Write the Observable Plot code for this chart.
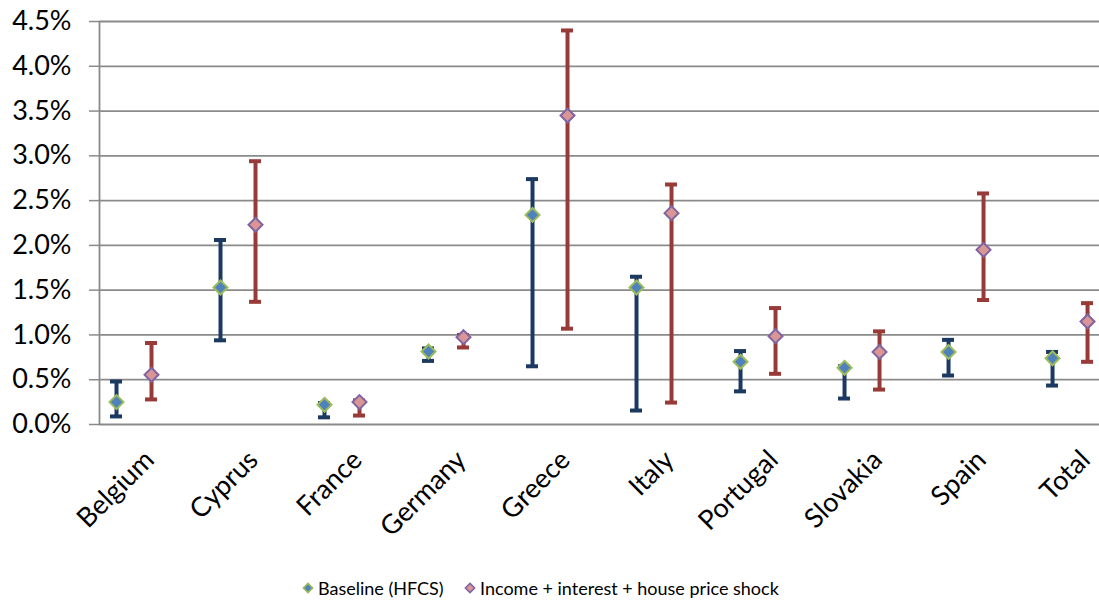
<!DOCTYPE html>
<html>
<head>
<meta charset="utf-8">
<script src="https://cdn.jsdelivr.net/npm/d3@7"></script>
<script src="https://cdn.jsdelivr.net/npm/@observablehq/plot@0.6"></script>
<style>
  html, body { margin: 0; padding: 0; background: #fff; }
  body { width: 1099px; height: 603px; overflow: hidden; font-family: Lato, "Open Sans", sans-serif; }
  #chart svg { display: block; }
  #legend { position: relative; height: 48px; font-size: 18px; color: #000; }
  .item { position: absolute; top: 13px; height: 40px; display: flex; align-items: center; }
  .item svg { margin-right: 4px; }
</style>
</head>
<body>
<div id="chart"></div>
<div id="legend"></div>
<script>
const categories = ["Belgium", "Cyprus", "France", "Germany", "Greece", "Italy", "Portugal", "Slovakia", "Spain", "Total"];
const seriesNames = ["Baseline (HFCS)", "Income + interest + house price shock"];
// values in percent
const baseMid  = [0.25, 1.53, 0.22, 0.815, 2.34, 1.53, 0.70, 0.633, 0.81, 0.74];
const baseLow  = [0.09, 0.94, 0.08, 0.71, 0.65, 0.156, 0.37, 0.29, 0.547, 0.435];
const baseHigh = [0.48, 2.06, 0.24, 0.85, 2.74, 1.65, 0.82, 0.65, 0.945, 0.81];
const shockMid  = [0.555, 2.23, 0.25, 0.975, 3.45, 2.36, 0.986, 0.81, 1.95, 1.15];
const shockLow  = [0.28, 1.37, 0.10, 0.86, 1.07, 0.245, 0.566, 0.39, 1.39, 0.70];
const shockHigh = [0.91, 2.94, 0.27, 1.00, 4.40, 2.68, 1.30, 1.04, 2.58, 1.355];
const yTicks = [0, 0.5, 1.0, 1.5, 2.0, 2.5, 3.0, 3.5, 4.0, 4.5];

const styles = {
  [seriesNames[0]]: {bar: "#1c3a61", fill: "#4f81bd", stroke: "#9bbb59", shift: -35 / 104},
  [seriesNames[1]]: {bar: "#983a37", fill: "#d99694", stroke: "#8064a2", shift: 0}
};

const rows = [];
categories.forEach((c, i) => {
  rows.push({cat: c, i, series: seriesNames[0], mid: baseMid[i], low: baseLow[i], high: baseHigh[i]});
  rows.push({cat: c, i, series: seriesNames[1], mid: shockMid[i], low: shockLow[i], high: shockHigh[i]});
});
const xPos = d => d.i + styles[d.series].shift;
const capHalf = 6 / 104;

const plot = Plot.plot({
  width: 1099,
  height: 555,
  marginLeft: 99,
  marginRight: 0,
  marginTop: 21,
  marginBottom: 131,
  style: {fontFamily: "Lato, 'Open Sans', sans-serif", color: "#000", background: "#fff", overflow: "visible"},
  x: {type: "linear", domain: [-0.5, 9.115]},
  y: {domain: [0, 4.5]},
  marks: [
    Plot.ruleY(yTicks, {stroke: "#8a8a8a", strokeWidth: 1.8}),
    Plot.ruleX([-0.5], {stroke: "#8a8a8a", strokeWidth: 1.8}),
    Plot.axisY({ticks: yTicks, tickSize: 10, tickPadding: 18, tickFormat: d => d.toFixed(1) + "%",
      fontSize: 27, stroke: "#8a8a8a", strokeWidth: 1.5, label: null}),
    Plot.axisX({ticks: d3.range(categories.length), tickFormat: i => categories[i], tickSize: 0,
      tickRotate: -45, tickPadding: 31, dx: -2, fontSize: 27, label: null}),
    Plot.ruleX(rows, {x: xPos, y1: "low", y2: "high", stroke: d => styles[d.series].bar, strokeWidth: 4}),
    Plot.ruleY(rows, {y: "high", x1: d => xPos(d) - capHalf, x2: d => xPos(d) + capHalf,
      stroke: d => styles[d.series].bar, strokeWidth: 4}),
    Plot.ruleY(rows, {y: "low", x1: d => xPos(d) - capHalf, x2: d => xPos(d) + capHalf,
      stroke: d => styles[d.series].bar, strokeWidth: 4}),
    Plot.dot(rows, {x: xPos, y: "mid", symbol: "diamond2", r: 6.3,
      fill: d => styles[d.series].fill, stroke: d => styles[d.series].stroke, strokeWidth: 2})
  ]
});
document.getElementById("chart").appendChild(plot);

const legend = document.getElementById("legend");
const lefts = [302, 464];
seriesNames.forEach((name, k) => {
  const s = styles[name];
  const item = document.createElement("div");
  item.className = "item";
  item.style.left = lefts[k] + "px";
  item.innerHTML = `<svg width="12" height="12" viewBox="-6 -6 12 12"><path d="M0,-4.6L4.6,0L0,4.6L-4.6,0Z" fill="${s.fill}" stroke="${s.stroke}" stroke-width="1.6"/></svg><span>${name}</span>`;
  legend.appendChild(item);
});
</script>
</body>
</html>
